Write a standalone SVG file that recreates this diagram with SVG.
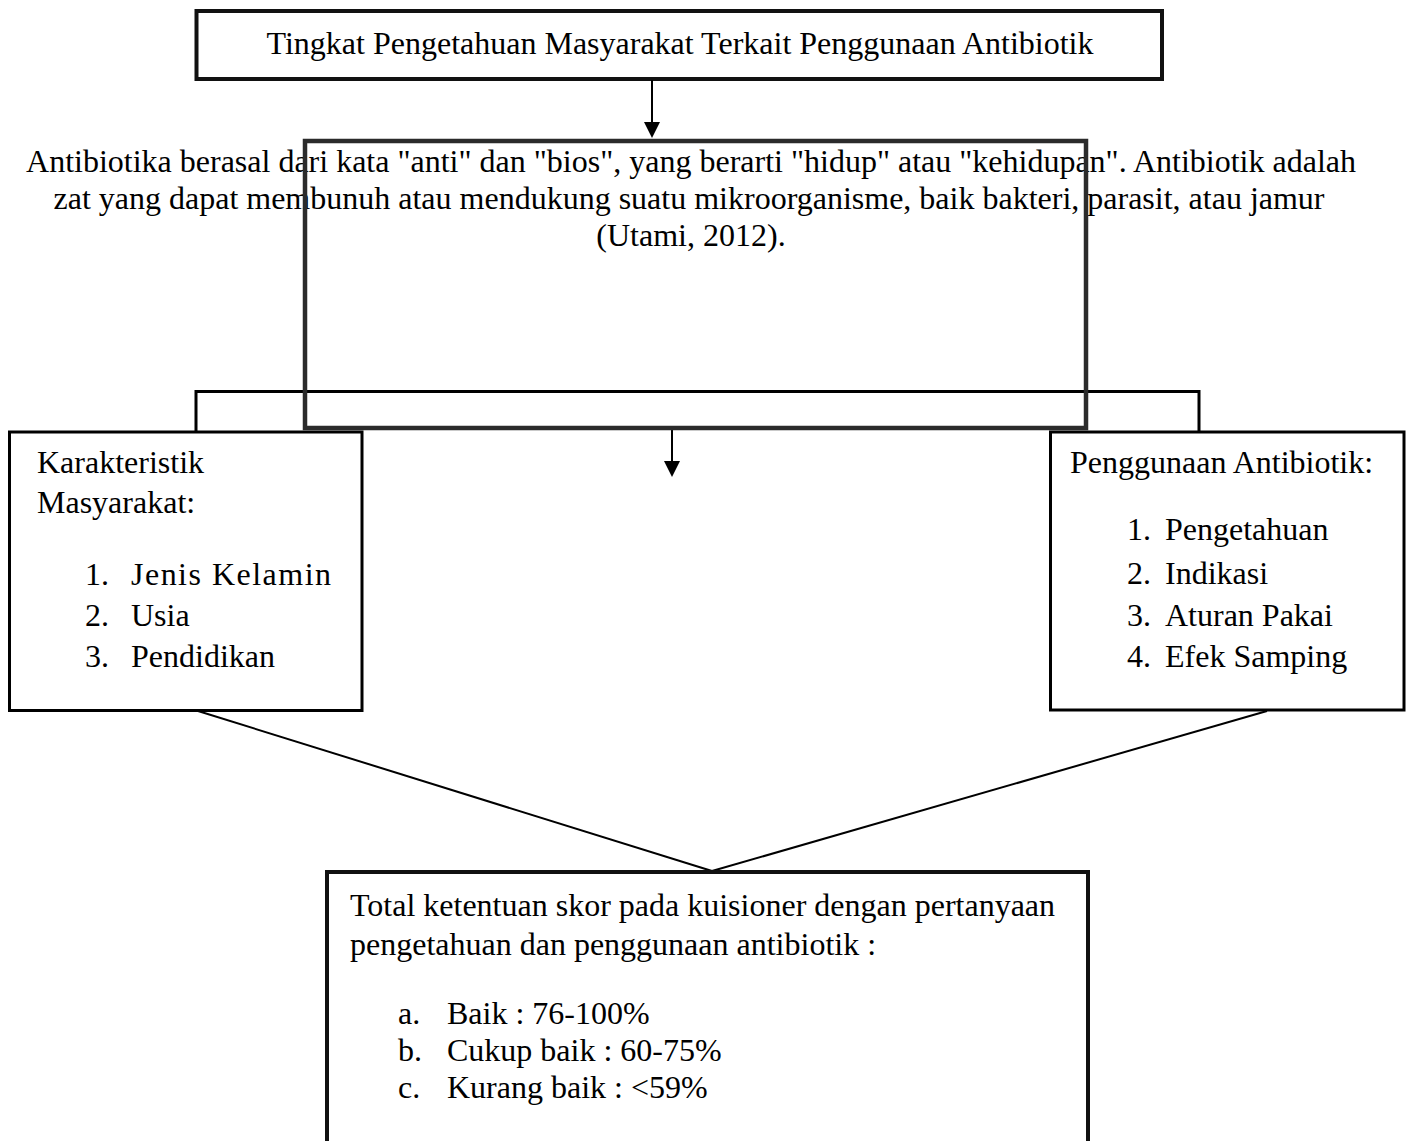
<svg xmlns="http://www.w3.org/2000/svg" width="1411" height="1141" viewBox="0 0 1411 1141">
<style>
text{font-family:"Liberation Serif","Times New Roman",serif;font-size:32px;fill:#000}
.mid{text-anchor:middle}
.box{fill:none;stroke:#000;stroke-width:3}
.thick{fill:none;stroke:#111;stroke-width:4}
.gray{fill:none;stroke:#2b2b2b;stroke-width:4.5}
.conn{fill:none;stroke:#000;stroke-width:2}
</style>
<rect width="1411" height="1141" fill="#fff"/>
<g id="title">
<rect class="thick" x="196.5" y="11" width="965.5" height="68"/>
<text class="mid" x="680" y="54">Tingkat Pengetahuan Masyarakat Terkait Penggunaan Antibiotik</text>
</g>
<g id="definition">
<text class="mid" x="691" y="172">Antibiotika berasal dari kata "anti" dan "bios", yang berarti "hidup" atau "kehidupan". Antibiotik adalah</text>
<text class="mid" x="689" y="209">zat yang dapat membunuh atau mendukung suatu mikroorganisme, baik bakteri, parasit, atau jamur</text>
<text class="mid" x="691" y="246">(Utami, 2012).</text>
</g>
<g id="connectors">
<path class="box" d="M196,432 V391.5 H1199 V432"/>
<line class="conn" x1="652" y1="80" x2="652" y2="124"/>
<polygon points="644,122 660,122 652,138" fill="#000"/>
<line class="conn" x1="672" y1="430" x2="672" y2="463"/>
<polygon points="664,461 680,461 672,477" fill="#000"/>
<line class="conn" x1="198" y1="711" x2="712" y2="871"/>
<line class="conn" x1="1267" y1="711" x2="712" y2="871"/>
</g>
<g id="definition-box">
<rect class="gray" x="305" y="141" width="781" height="287"/>
</g>
<g id="karakteristik">
<rect class="box" x="9.5" y="432" width="352.5" height="278.5"/>
<text x="37" y="473">Karakteristik</text>
<text x="37" y="513">Masyarakat:</text>
<text x="85" y="585">1.</text><text x="131" y="585" textLength="200" lengthAdjust="spacing">Jenis Kelamin</text>
<text x="85" y="626">2.</text><text x="131" y="626">Usia</text>
<text x="85" y="667">3.</text><text x="131" y="667">Pendidikan</text>
</g>
<g id="penggunaan">
<rect class="box" x="1050.5" y="432" width="353.5" height="278"/>
<text x="1070" y="473">Penggunaan Antibiotik:</text>
<text x="1127" y="540">1.</text><text x="1165" y="540">Pengetahuan</text>
<text x="1127" y="584">2.</text><text x="1165" y="584">Indikasi</text>
<text x="1127" y="626">3.</text><text x="1165" y="626">Aturan Pakai</text>
<text x="1127" y="667">4.</text><text x="1165" y="667">Efek Samping</text>
</g>
<g id="skor">
<rect class="thick" x="327" y="872" width="761" height="300"/>
<text x="350" y="916">Total ketentuan skor pada kuisioner dengan pertanyaan</text>
<text x="350" y="955">pengetahuan dan penggunaan antibiotik :</text>
<text x="398" y="1024">a.</text><text x="447" y="1024">Baik : 76-100%</text>
<text x="398" y="1061">b.</text><text x="447" y="1061">Cukup baik : 60-75%</text>
<text x="398" y="1098">c.</text><text x="447" y="1098">Kurang baik : &lt;59%</text>
</g>
</svg>
